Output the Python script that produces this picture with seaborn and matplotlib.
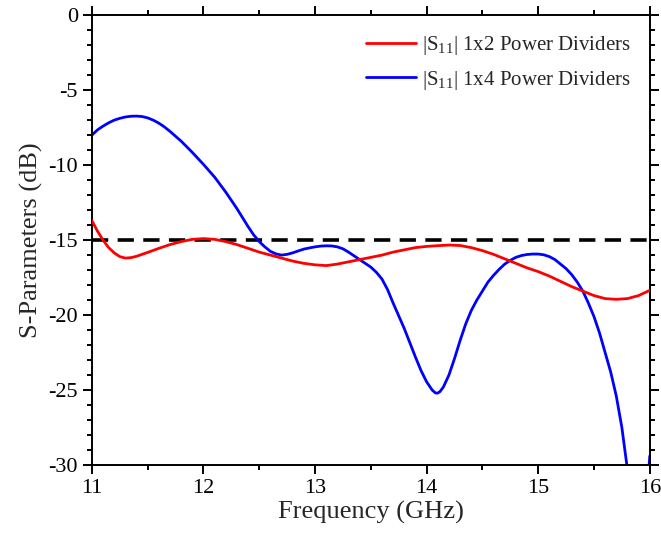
import numpy as np
import pandas as pd
import matplotlib
matplotlib.use("Agg")
import matplotlib.pyplot as plt
from matplotlib.ticker import MultipleLocator
import seaborn as sns

freq_red = [11.0, 11.05, 11.1, 11.15, 11.2, 11.25, 11.3, 11.35, 11.4, 11.45,
            11.5, 11.6, 11.7, 11.8, 11.9,
            12.0, 12.1, 12.2, 12.3, 12.4, 12.5, 12.6, 12.7, 12.8, 12.9,
            13.0, 13.1, 13.2, 13.3, 13.4, 13.5, 13.6, 13.7, 13.8, 13.9,
            14.0, 14.1, 14.2, 14.3, 14.4, 14.5, 14.6, 14.7, 14.8, 14.9,
            15.0, 15.1, 15.2, 15.3, 15.4, 15.5, 15.6, 15.7, 15.8, 15.9, 16.0]
s11_1x2 = [-13.7, -14.4, -15.0, -15.5, -15.85, -16.1, -16.2, -16.17, -16.08, -15.95,
           -15.82, -15.55, -15.3, -15.1, -14.95,
           -14.9, -14.95, -15.1, -15.3, -15.55, -15.8, -16.0, -16.2, -16.4, -16.55,
           -16.65, -16.7, -16.6, -16.45, -16.3, -16.15, -16.0, -15.8, -15.65, -15.5,
           -15.42, -15.37, -15.33, -15.36, -15.5, -15.7, -15.95, -16.25, -16.55, -16.85,
           -17.1, -17.4, -17.75, -18.1, -18.4, -18.7, -18.9, -18.95, -18.9, -18.7, -18.35]

freq_blue = [11.0, 11.05, 11.1, 11.15, 11.2, 11.25, 11.3, 11.35, 11.4, 11.45,
             11.5, 11.55, 11.6, 11.65, 11.7, 11.8, 11.9,
             12.0, 12.1, 12.2, 12.3, 12.4, 12.45, 12.5, 12.55, 12.6, 12.65,
             12.7, 12.75, 12.8, 12.85, 12.9, 12.95, 13.0, 13.05, 13.1, 13.15,
             13.2, 13.25, 13.3, 13.35, 13.4, 13.45, 13.5, 13.55, 13.6, 13.65,
             13.7, 13.8, 13.9, 13.95, 14.0, 14.05, 14.08, 14.1, 14.12, 14.15,
             14.2, 14.25, 14.3, 14.35, 14.4, 14.45, 14.5, 14.55, 14.6, 14.65,
             14.7, 14.75, 14.8, 14.85, 14.9, 14.95, 15.0, 15.05, 15.1, 15.15,
             15.2, 15.25, 15.3, 15.35, 15.4, 15.45, 15.5, 15.55, 15.6, 15.65,
             15.7, 15.75, 15.8, 15.85, 15.9, 15.95, 15.98, 16.0]
s11_1x4 = [-8.0, -7.65, -7.4, -7.18, -7.0, -6.88, -6.79, -6.74, -6.73, -6.76,
           -6.85, -7.0, -7.2, -7.45, -7.75, -8.4, -9.15,
           -9.95, -10.8, -11.8, -12.9, -14.1, -14.65, -15.1, -15.45, -15.75, -15.92,
           -16.0, -15.95, -15.85, -15.72, -15.6, -15.52, -15.45, -15.4, -15.38, -15.39,
           -15.45, -15.58, -15.8, -16.05, -16.3, -16.55, -16.8, -17.15, -17.6, -18.3,
           -19.2, -20.9, -22.8, -23.7, -24.45, -25.0, -25.2, -25.2, -25.1, -24.8,
           -24.0, -22.9, -21.7, -20.6, -19.7, -19.0, -18.4, -17.8, -17.35, -16.95,
           -16.6, -16.35, -16.15, -16.03, -15.96, -15.93, -15.93, -15.98, -16.1, -16.3,
           -16.6, -16.9, -17.3, -17.8, -18.4, -19.2, -20.1, -21.2, -22.5, -23.8,
           -25.4, -27.5, -30.3, -34.0, -37.0, -34.0, -31.5, -29.4]

threshold_db = -15
xticks = [11, 12, 13, 14, 15, 16]
yticks = [0, -5, -10, -15, -20, -25, -30]
labels = [r"$|\mathrm{S}_{11}|$ 1x2 Power Dividers", r"$|\mathrm{S}_{11}|$ 1x4 Power Dividers"]

df_red = pd.DataFrame({"f": freq_red, "s": s11_1x2})
df_blue = pd.DataFrame({"f": freq_blue, "s": s11_1x4})

sns.set_style("ticks")
plt.rcParams["font.family"] = ["Liberation Serif", "DejaVu Serif"]
plt.rcParams["mathtext.fontset"] = "custom"
plt.rcParams["mathtext.rm"] = "Liberation Serif"
plt.rcParams["mathtext.it"] = "Liberation Serif:italic"
plt.rcParams["axes.unicode_minus"] = False

fig = plt.figure(figsize=(6.61, 5.42), dpi=100)
ax = fig.add_axes([0.139, 0.142, 0.844, 0.830])

ax.axhline(threshold_db, color="black", lw=2.6, ls=(0, (4.5, 2.6)), zorder=1)
sns.lineplot(data=df_red, x="f", y="s", ax=ax, color="#ff0000", lw=2.0, label=labels[0],
             zorder=3, solid_joinstyle="round", solid_capstyle="round")
sns.lineplot(data=df_blue, x="f", y="s", ax=ax, color="#0000ff", lw=2.0, label=labels[1],
             zorder=2, solid_joinstyle="round", solid_capstyle="round")

ax.set_xlim(11, 16)
ax.set_ylim(-30, 0)
ax.set_xticks(xticks)
ax.set_yticks(yticks)
ax.xaxis.set_minor_locator(MultipleLocator(0.5))
ax.yaxis.set_minor_locator(MultipleLocator(1))
ax.tick_params(which="both", direction="out", top=True, right=True, width=1.4, labelsize=16, colors="black")
ax.tick_params(which="major", length=6.5)
ax.tick_params(which="minor", length=3.5)
for s in ax.spines.values():
    s.set_linewidth(1.4)
    s.set_color("black")
    s.set_visible(True)

ax.set_xlabel("Frequency (GHz)", fontsize=19, labelpad=2)
ax.set_ylabel("S-Parameters (dB)", fontsize=19, labelpad=4)

leg = ax.legend(loc="upper right", frameon=False, fontsize=15, handlelength=2.4,
                handletextpad=0.3, labelspacing=0.55, bbox_to_anchor=(0.992, 0.99),
                borderaxespad=0.3)

fig.savefig("out.png", dpi=100)
